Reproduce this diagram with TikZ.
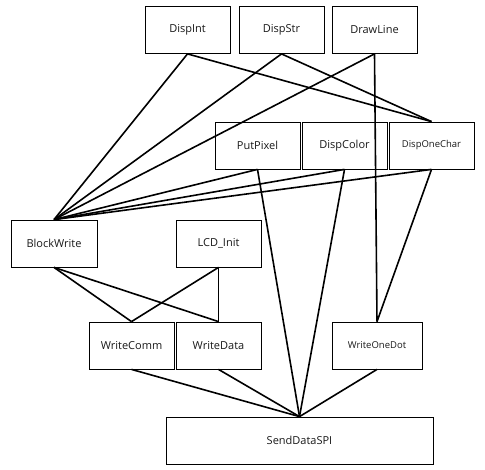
\documentclass[tikz,border=0pt]{standalone}
\usepackage{fontspec}
\setmainfont{Open Sans}
\begin{document}
\begin{tikzpicture}[x=1pt,y=-1pt,
  box/.style={draw, line width=0.8pt, minimum width=85pt, minimum height=47pt, inner sep=0pt, font=\fontsize{11}{13}\selectfont, text=black!90},
  smallbox/.style={box, font=\fontsize{9.5}{11}\selectfont},
  link/.style={line width=1.6pt}]
\useasboundingbox (0,0) rectangle (485,469);
\node[box] (dispint) at (187.5,30) {DispInt};
\node[box] (dispstr) at (281.5,30) {DispStr};
\node[box] (drawline) at (374.5,30) {DrawLine};
\node[box] (putpixel) at (257.5,145.5) {PutPixel};
\node[box] (dispcolor) at (344.5,145.5) {DispColor};
\node[smallbox] (disponechar) at (431.5,145.5) {DispOneChar};
\node[box, minimum width=86pt] (blockwrite) at (54,243.5) {BlockWrite};
\node[box] (lcdinit) at (218.5,243.5) {LCD\_Init};
\node[box] (writecomm) at (131.5,345.5) {WriteComm};
\node[box] (writedata) at (218.5,345.5) {WriteData};
\node[smallbox, minimum width=90pt] (writeonedot) at (377,345.5) {WriteOneDot};
\node[box, minimum width=267pt] (senddataspi) at (299.5,440.5) {SendDataSPI};
% connectors
\draw[link] (dispint.south) -- (blockwrite.north);
\draw[link] (dispint.south) -- (disponechar.north);
\draw[link] (dispstr.south) -- (blockwrite.north);
\draw[link] (dispstr.south) -- (disponechar.north);
\draw[link] (drawline.south) -- (blockwrite.north);
\draw[link] (drawline.south) -- (writeonedot.north);
\draw[link] (putpixel.south) -- (blockwrite.north);
\draw[link] (putpixel.south) -- (senddataspi.north);
\draw[link] (dispcolor.south) -- (blockwrite.north);
\draw[link] (dispcolor.south) -- (senddataspi.north);
\draw[link] (disponechar.south) -- (blockwrite.north);
\draw[link] (disponechar.south) -- (writeonedot.north);
\draw[link] (blockwrite.south) -- (writecomm.north);
\draw[link] (blockwrite.south) -- (writedata.north);
\draw[link] (lcdinit.south) -- (writecomm.north);
\draw[link] (lcdinit.south) -- (writedata.north);
\draw[link] (writecomm.south) -- (senddataspi.north);
\draw[link] (writedata.south) -- (senddataspi.north);
\draw[link] (writeonedot.south) -- (senddataspi.north);
\end{tikzpicture}
\end{document}
